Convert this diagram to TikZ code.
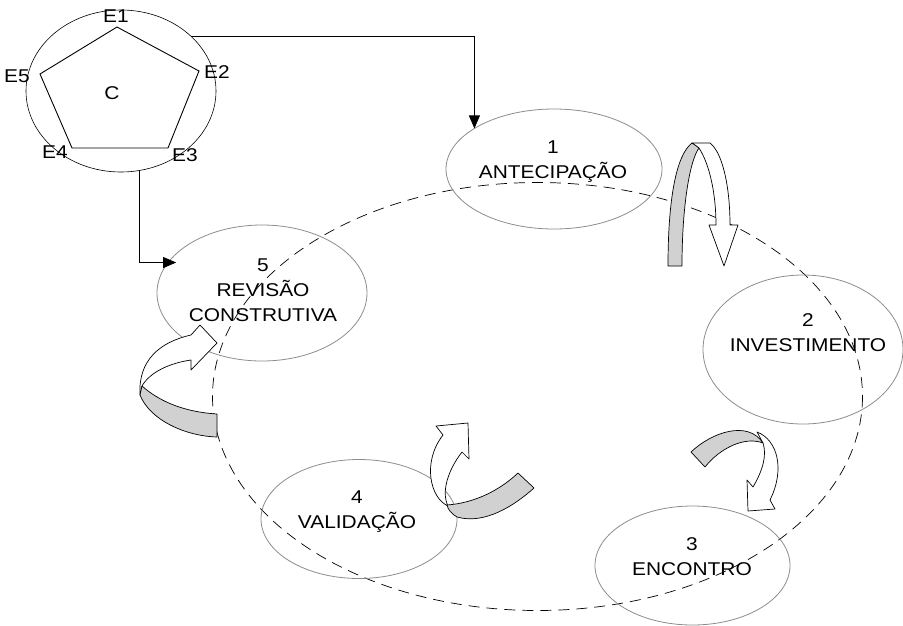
\documentclass[tikz,border=0pt]{standalone}
\usepackage{fontspec}
\setmainfont{Liberation Sans}[FakeStretch=1.13]
\usetikzlibrary{arrows.meta,shapes.geometric}
\definecolor{rim}{gray}{0.55}
\definecolor{band}{gray}{0.82}

\begin{document}
\begin{tikzpicture}[x=1pt,y=-1pt,
  fase/.style={draw=rim, ellipse, inner sep=0pt, outer sep=0pt, line width=0.8pt},
  rotulo/.style={align=center, font=\fontsize{18.5}{25}\selectfont},
  vert/.style={font=\fontsize{18.5}{22}\selectfont, inner sep=0pt},
  liga/.style={draw, line width=0.7pt, -{Triangle[length=13pt,width=11pt]}},
  verso/.style={draw, fill=band, line width=0.7pt, line join=round},
  frente/.style={draw, fill=white, line width=0.7pt, line join=round}]
\useasboundingbox (0,0) rectangle (903,625);

% ciclo tracejado
\draw[dash pattern=on 11pt off 7pt, line width=0.7pt] (537.5,396.5) ellipse [x radius=325, y radius=214];

% fases
\node[fase, draw=black, line width=0.6pt, minimum width=190pt, minimum height=162pt] (ciclo) at (121,91) {};
\node[fase, minimum width=216pt, minimum height=120pt] (fase1) at (554,169) {};
\node[fase, minimum width=200pt, minimum height=149pt] (fase2) at (803,349.5) {};
\node[fase, minimum width=195pt, minimum height=119pt] (fase3) at (692.5,565.5) {};
\node[fase, minimum width=196pt, minimum height=119pt] (fase4) at (359,519) {};
\node[fase, minimum width=210pt, minimum height=136pt] (fase5) at (262,293) {};

\node[rotulo] (t1) at (553,162) {1\\ANTECIPAÇÃO};
\node[rotulo] (t2) at (808,333) {2\\INVESTIMENTO};
\node[rotulo] (t3) at (692,557) {3\\ENCONTRO};
\node[rotulo] (t4) at (357,512) {4\\VALIDAÇÃO};
\node[rotulo] (t5) at (263,290) {5\\REVISÃO\\CONSTRUTIVA};

% pentagono
\draw[line width=0.9pt] (117,27) -- (199,71) -- (168,148) -- (72,148) -- (40,74) -- cycle;
\node[vert] (v1) at (116,16) {E1};
\node[vert] (v2) at (217,72) {E2};
\node[vert] (v3) at (185,155) {E3};
\node[vert] (v4) at (55,152) {E4};
\node[vert] (v5) at (17,76) {E5};
\node[vert] (centro) at (112,93) {C};

% ligacoes
\draw[liga] (ciclo.38) -| (fase1.153);
\draw[liga, shorten >=-8pt] (ciclo.283) |- (fase5.162);

% setas curvas
\draw[frente] (692,143) -- (710,143) .. controls (722,152) and (730,185) .. (730,225) -- (738,225) -- (724,266) -- (709,225) -- (716,225) .. controls (716,195) and (710,165) .. (699,148) -- cycle;
\draw[verso] (668,266) .. controls (668,200) and (676,155) .. (692,143) -- (699,148) .. controls (690,160) and (682,205) .. (682,266) -- cycle;

\draw[frente] (757,432) .. controls (778,440) and (785,470) .. (770,500) -- (775,509) -- (748,511) -- (747,480) -- (753,487) .. controls (763,470) and (767,455) .. (763,443) -- cycle;
\draw[verso] (691,452) .. controls (712,432) and (748,420) .. (763,443) .. controls (745,436) and (720,448) .. (705,467) -- cycle;

\draw[frente] (443,435) -- (436,426) -- (468,423) -- (469,459) -- (462,452) .. controls (448,470) and (441,492) .. (448,506) .. controls (430,498) and (422,462) .. (443,435) -- cycle;
\draw[verso] (447,505) .. controls (475,503) and (500,490) .. (518,473) -- (534,488) .. controls (515,505) and (485,525) .. (457,517) .. controls (452,514) and (448,510) .. (447,505) -- cycle;

\draw[frente] (140,395) .. controls (138,360) and (160,342) .. (191,335) -- (200,325) -- (217,343) -- (191,370) -- (191,360) .. controls (170,363) and (150,372) .. (142,386) -- cycle;
\draw[verso] (142,386) .. controls (160,402) and (185,412) .. (217,414) -- (217,437) .. controls (185,436) and (150,420) .. (140,395) -- cycle;
\end{tikzpicture}
\end{document}
